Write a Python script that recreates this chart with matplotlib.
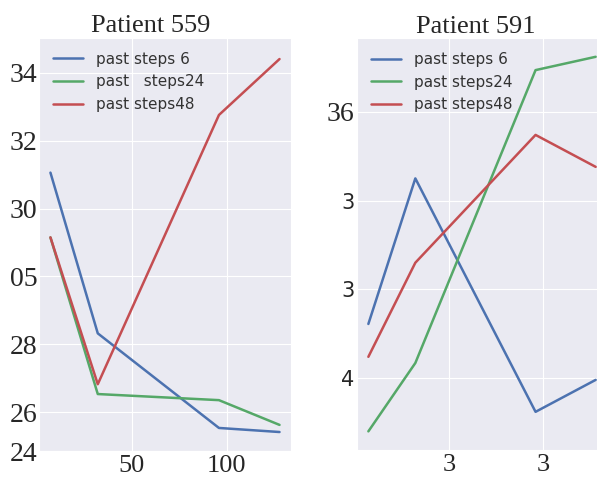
import matplotlib
matplotlib.use("Agg")
import matplotlib.pyplot as plt
import seaborn as sns

# x positions (prediction horizon)
x_vals = [7, 32, 96, 128]

# Patient 559
p559_steps6 = [33.06, 28.32, 25.53, 25.41]
p559_steps24 = [31.15, 26.53, 26.35, 25.62]
p559_steps48 = [31.15, 26.82, 34.76, 36.41]
p559_yticks = [24.85, 26, 28, 30, 32, 34, 36]
p559_yticklabels = ['24', '26', '28', '05', '30', '32', '34']
p559_xticks = [50, 100]
p559_xticklabels = ['50', '100']
p559_legend = ['past steps 6', 'past   steps24', 'past steps48']

# Patient 591
p591_steps6 = [1.61, 3.25, 0.62, 0.98]
p591_steps24 = [0.40, 1.17, 4.47, 4.62]
p591_steps48 = [1.24, 2.30, 3.74, 3.38]
p591_yticks = [1, 2, 3, 4]
p591_yticklabels = ['4', '3', '3', '36']
p591_xticks = [50, 100]
p591_xticklabels = ['3', '3']
p591_legend = ['past steps 6', 'past steps24', 'past steps48']

sns.set_style("darkgrid")
plt.rcParams['font.family'] = ['DejaVu Sans']

colors = ['#4C72B0', '#55A868', '#C44E52']
serif = 'Liberation Serif'

fig = plt.figure(figsize=(5.97, 4.8), dpi=100)
ax1 = fig.add_axes([0.0653, 0.0604, 0.4221, 0.8604])
ax2 = fig.add_axes([0.598, 0.0625, 0.4188, 0.858])

# left panel
for ys, lab, c in zip([p559_steps6, p559_steps24, p559_steps48], p559_legend, colors):
    ax1.plot(x_vals, ys, color=c, lw=1.8, label=lab)
ax1.set_ylim(24.85, 37.03)
ax1.set_yticks(p559_yticks)
ax1.set_yticklabels(p559_yticklabels, fontfamily=serif, fontsize=20)
ax1.set_xticks(p559_xticks)
ax1.set_xticklabels(p559_xticklabels, fontfamily=serif, fontsize=19)
ax1.set_title('Patient 559', fontfamily=serif, fontsize=19, x=0.444, pad=4)
ax1.tick_params(axis='y', pad=1, length=0)
ax1.tick_params(axis='x', pad=3, length=0)
ax1.legend(loc='upper left', fontsize=11, frameon=False, labelcolor='#333333')

# right panel
for ys, lab, c in zip([p591_steps6, p591_steps24, p591_steps48], p591_legend, colors):
    ax2.plot(x_vals, ys, color=c, lw=1.8, label=lab)
ax2.set_ylim(0.19, 4.83)
ax2.set_yticks(p591_yticks)
ax2.set_yticklabels(p591_yticklabels)
for t in ax2.get_yticklabels():
    if t.get_text() == '36':
        t.set_fontfamily(serif)
        t.set_fontsize(20)
    else:
        t.set_fontfamily('DejaVu Sans')
        t.set_fontsize(15)
ax2.set_xticks(p591_xticks)
ax2.set_xticklabels(p591_xticklabels, fontfamily=serif, fontsize=19)
ax2.set_title('Patient 591', fontfamily=serif, fontsize=19, x=0.476, pad=4)
ax2.tick_params(axis='y', pad=2, length=0)
ax2.tick_params(axis='x', pad=3, length=0)
ax2.legend(loc='upper left', fontsize=11, frameon=False, labelcolor='#333333')

fig.savefig('out.png', dpi=100)
